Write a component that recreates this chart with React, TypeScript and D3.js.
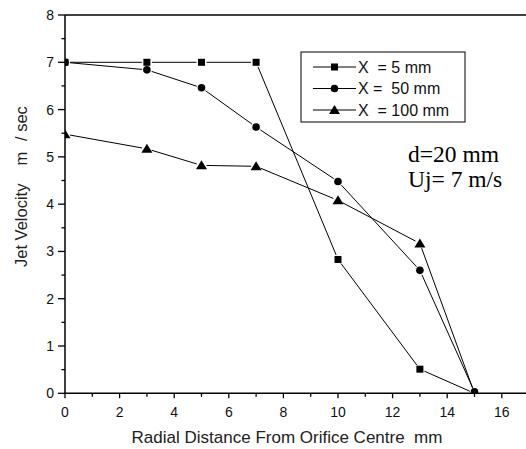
import React from "react";
import * as d3 from "d3";

// Radial positions (mm from orifice centre)
const radialMm = [0, 3, 5, 7, 10, 13, 15];

// Jet velocity (m/sec) at three axial stations
const velX5 = [7, 7, 7, 7, 2.83, 0.51, 0];
const velX50 = [7, 6.84, 6.46, 5.63, 4.48, 2.6, 0.03];
const velX100 = [5.48, 5.17, 4.82, 4.8, 4.08, 3.17, 0];

const seriesNames = ["X  = 5 mm", "X =  50 mm", "X  = 100 mm"];
const seriesShapes = ["square", "circle", "triangle"];

const xTicks = [0, 2, 4, 6, 8, 10, 12, 14, 16];
const yTicks = [0, 1, 2, 3, 4, 5, 6, 7, 8];

const W = 526;
const H = 449;
const left = 65;
const top = 15;
const bottom = 393.3;
const rightEdge = 526;

const x = d3.scaleLinear().domain([0, 16]).range([left, 501.8]);
const y = d3.scaleLinear().domain([0, 8]).range([bottom, top]);

const sans = "'Liberation Sans', Arial, sans-serif";
const serif = "'Liberation Serif', 'Times New Roman', serif";

function Marker({ shape, cx, cy }: { shape: string; cx: number; cy: number }) {
  if (shape === "square") return <rect x={cx - 3.5} y={cy - 3.5} width={7} height={7} fill="#000" />;
  if (shape === "circle") return <circle cx={cx} cy={cy} r={3.8} fill="#000" />;
  const p = d3.path();
  p.moveTo(cx, cy - 5);
  p.lineTo(cx + 5.5, cy + 4);
  p.lineTo(cx - 5.5, cy + 4);
  p.closePath();
  return <path d={p.toString()} fill="#000" />;
}

// Segments stop short of each marker, leaving a small gap
function gappedSegments(pts: [number, number][], gap: number) {
  const out: string[] = [];
  for (let i = 0; i < pts.length - 1; i++) {
    const [x1, y1] = pts[i];
    const [x2, y2] = pts[i + 1];
    const len = Math.hypot(x2 - x1, y2 - y1);
    if (len <= 2 * gap) continue;
    const ux = (x2 - x1) / len;
    const uy = (y2 - y1) / len;
    const p = d3.path();
    p.moveTo(x1 + ux * gap, y1 + uy * gap);
    p.lineTo(x2 - ux * gap, y2 - uy * gap);
    out.push(p.toString());
  }
  return out;
}

export default function App() {
  const allSeries = [velX5, velX50, velX100];
  const minorX = d3.range(1, 17, 2);
  const minorY = d3.range(0.5, 8, 1);

  return (
    <svg
      width={W}
      height={H}
      style={{ position: "absolute", left: 0, top: 0, background: "#fff" }}
      fontFamily={sans}
    >
      <defs>
        <clipPath id="plotClip">
          <rect x={left} y={top} width={rightEdge - left} height={bottom - top} />
        </clipPath>
      </defs>

      {/* data lines and markers */}
      <g clipPath="url(#plotClip)">
        {allSeries.map((vals, si) => {
          const pts = radialMm.map((r, i) => [x(r), y(vals[i])] as [number, number]);
          return (
            <g key={si}>
              {gappedSegments(pts, 5).map((d, k) => (
                <path key={k} d={d} stroke="#000" strokeWidth={1} fill="none" />
              ))}
              {pts.map(([cx, cy], k) => (
                <Marker key={k} shape={seriesShapes[si]} cx={cx} cy={cy} />
              ))}
            </g>
          );
        })}
      </g>

      {/* frame: top line, left axis, bottom axis */}
      <line x1={left} x2={rightEdge} y1={top} y2={top} stroke="#000" strokeWidth={1.5} />
      <line x1={left} x2={left} y1={top} y2={bottom} stroke="#000" strokeWidth={1.5} />
      <line x1={left - 0.75} x2={rightEdge} y1={bottom} y2={bottom} stroke="#000" strokeWidth={1.5} />

      {/* y ticks */}
      {yTicks.map((t) => (
        <g key={"y" + t}>
          <line x1={left - 7} x2={left} y1={y(t)} y2={y(t)} stroke="#000" strokeWidth={1.3} />
          <text x={left - 11} y={y(t)} dy="0.36em" textAnchor="end" fontSize={14} fill="#111">
            {t}
          </text>
        </g>
      ))}
      {minorY.map((t) => (
        <line key={"my" + t} x1={left - 3.5} x2={left} y1={y(t)} y2={y(t)} stroke="#000" strokeWidth={1.3} />
      ))}

      {/* x ticks */}
      {xTicks.map((t) => (
        <g key={"x" + t}>
          <line x1={x(t)} x2={x(t)} y1={bottom} y2={bottom + 5} stroke="#000" strokeWidth={1.3} />
          <text x={x(t)} y={bottom + 24} textAnchor="middle" fontSize={14} fill="#111">
            {t}
          </text>
        </g>
      ))}
      {minorX.map((t) => (
        <line key={"mx" + t} x1={x(t)} x2={x(t)} y1={bottom} y2={bottom + 3.5} stroke="#000" strokeWidth={1.3} />
      ))}

      {/* axis titles */}
      <text x={287} y={443} textAnchor="middle" fontSize={17} fill="#222" style={{ whiteSpace: "pre" }}>
        {"Radial Distance From Orifice Centre  mm"}
      </text>
      <g transform="translate(27,0) rotate(-90)" fontSize={16.5} fill="#222">
        <text x={-267}>Jet Velocity</text>
        <text x={-165.5}>m</text>
        <text x={-141} style={{ whiteSpace: "pre" }}>
          {"/ sec"}
        </text>
      </g>

      {/* legend */}
      <rect x={301} y={52} width={164} height={70} fill="#fff" stroke="#000" strokeWidth={1} />
      {seriesNames.map((name, i) => {
        const ly = 67 + i * 21.5;
        return (
          <g key={name}>
            <line x1={313} x2={356} y1={ly} y2={ly} stroke="#000" strokeWidth={1} />
            <Marker shape={seriesShapes[i]} cx={334.5} cy={ly} />
            <text x={358} y={ly} dy="0.36em" fontSize={16} fill="#111" style={{ whiteSpace: "pre" }}>
              {name}
            </text>
          </g>
        );
      })}

      {/* jet parameters */}
      <text x={408} y={162} fontFamily={serif} fontSize={23.5}>
        d=20 mm
      </text>
      <text x={408} y={187} fontFamily={serif} fontSize={23.5}>
        Uj= 7 m/s
      </text>
    </svg>
  );
}
